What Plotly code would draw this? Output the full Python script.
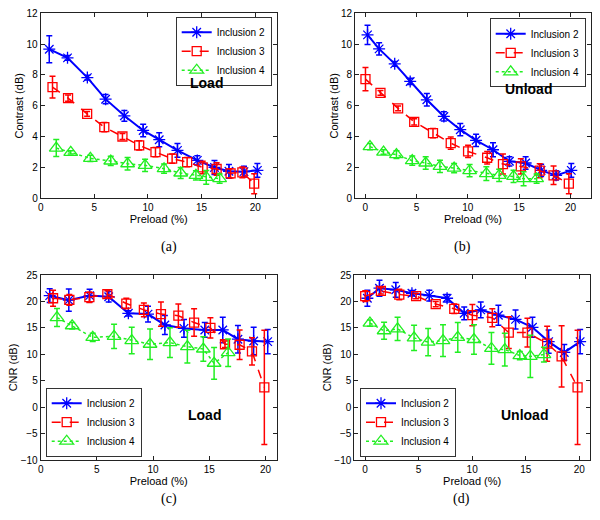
import plotly.graph_objects as go

# ---------------- data ----------------
# Load (a: contrast, c: CNR)
x2_load = [0.8, 2.5, 4.35, 6.05, 7.8, 9.55, 11.05, 12.75, 14.6, 16.2, 17.55, 18.95, 20.2]
x3_load = [1.1, 2.55, 4.33, 5.93, 7.62, 9.18, 10.7, 12.25, 13.65, 15.1, 16.4, 17.7, 18.8, 19.9]
x4_load = [1.45, 2.8, 4.63, 6.53, 8.1, 9.73, 11.5, 13.05, 14.47, 15.43, 16.68]
# Unload (b: contrast, d: CNR)
x2_unload = [0.22, 1.35, 2.87, 4.38, 6.0, 7.66, 9.26, 10.8, 12.45, 14.05, 15.63, 17.14, 18.6, 20.08]
x3_unload = [0.02, 1.48, 3.2, 4.77, 6.6, 8.33, 10.02, 11.88, 13.42, 15.16, 17.0, 18.35, 19.84]
x4_unload = [0.46, 1.78, 3.04, 4.58, 5.89, 7.28, 8.66, 10.17, 11.8, 13.05, 14.45, 15.43, 16.7]

# (a) Contrast, Load
y2a = [9.67, 9.11, 7.83, 6.43, 5.35, 4.40, 3.80, 3.11, 2.46, 2.0, 1.75, 1.73, 1.81]
e2a = [0.87, 0.15, 0.15, 0.3, 0.35, 0.4, 0.45, 0.45, 0.3, 0.45, 0.45, 0.35, 0.45]
y3a = [7.21, 6.5, 5.48, 4.62, 4.01, 3.43, 3.0, 2.57, 2.35, 2.0, 1.9, 1.62, 1.68, 0.95]
e3a = [0.7, 0.2, 0.15, 0.3, 0.2, 0.3, 0.3, 0.3, 0.3, 0.4, 0.4, 0.3, 0.35, 0.65]
y4a = [3.26, 2.98, 2.59, 2.42, 2.24, 2.14, 1.92, 1.64, 1.49, 1.36, 1.27]
e4a = [0.55, 0.1, 0.2, 0.3, 0.4, 0.4, 0.3, 0.35, 0.3, 0.45, 0.3]

# (b) Contrast, Unload
y2b = [10.6, 9.69, 8.72, 7.58, 6.39, 5.31, 4.45, 3.76, 3.15, 2.40, 2.29, 1.81, 1.49, 1.81]
e2b = [0.62, 0.4, 0.15, 0.2, 0.4, 0.3, 0.4, 0.4, 0.45, 0.3, 0.4, 0.4, 0.3, 0.45]
y3b = [7.73, 6.84, 5.83, 4.96, 4.23, 3.58, 3.04, 2.63, 2.22, 2.07, 1.79, 1.49, 0.95]
e3b = [0.75, 0.15, 0.15, 0.2, 0.3, 0.4, 0.4, 0.4, 0.65, 0.5, 0.45, 0.6, 0.65]
y4b = [3.35, 3.0, 2.83, 2.44, 2.29, 2.07, 1.96, 1.79, 1.6, 1.49, 1.42, 1.27, 1.27]
e4b = [0.2, 0.15, 0.25, 0.3, 0.4, 0.4, 0.3, 0.4, 0.45, 0.4, 0.4, 0.45, 0.3]

# (c) CNR, Load
y2c = [21.1, 20.25, 21.1, 20.9, 17.75, 17.6, 15.55, 14.9, 14.6, 14.6, 12.85, 12.5, 12.4]
e2c = [1.3, 2.1, 1.2, 1.0, 0.5, 1.5, 1.8, 1.7, 1.4, 2.4, 2.6, 2.6, 2.3]
y3c = [20.6, 20.3, 20.8, 21.4, 19.6, 18.4, 17.6, 17.3, 16.0, 15.0, 11.9, 11.8, 10.55, 3.75]
e3c = [1.5, 1.0, 1.0, 0.6, 1.0, 1.3, 2.3, 2.2, 2.6, 1.9, 0.6, 2.8, 2.6, 10.8]
y4c = [16.95, 15.4, 13.2, 13.4, 12.6, 11.9, 12.2, 11.45, 11.0, 8.3, 10.3]
e4c = [1.7, 0.6, 0.8, 2.3, 2.5, 2.9, 2.8, 3.1, 2.3, 3.0, 2.6]

# (d) CNR, Unload
y2d = [20.6, 22.5, 22.2, 21.55, 21.1, 20.6, 17.75, 18.4, 17.4, 16.6, 15.1, 12.4, 10.35, 12.4]
e2d = [1.5, 1.5, 1.4, 0.5, 1.0, 0.7, 1.2, 1.5, 1.9, 1.8, 1.9, 2.2, 1.5, 2.3]
y3d = [21.0, 22.0, 21.3, 21.0, 19.5, 18.6, 17.4, 16.9, 14.1, 14.1, 12.0, 9.6, 3.75]
e3d = [1.0, 0.6, 1.0, 0.5, 0.5, 0.9, 2.0, 1.7, 3.0, 2.7, 3.3, 5.8, 10.8]
y4d = [15.9, 14.45, 14.8, 13.1, 12.3, 12.6, 13.2, 12.8, 11.1, 10.9, 9.75, 9.6, 9.95]
e4d = [0.6, 1.6, 2.2, 2.4, 2.6, 3.0, 2.8, 2.8, 3.0, 3.1, 0.8, 4.0, 1.4]

series_names = ["Inclusion 2", "Inclusion 3", "Inclusion 4"]
panel_labels = ["(a)", "(b)", "(c)", "(d)"]
panel_texts = ["Load", "Unload", "Load", "Unload"]
y_titles = ["Contrast (dB)", "Contrast (dB)", "CNR (dB)", "CNR (dB)"]
x_title = "Preload (%)"

# ---------------- style ----------------
W, H = 600, 520
FONT = "Liberation Sans, Arial, sans-serif"
SERIF = "Liberation Serif, DejaVu Serif, serif"
BLUE, RED, GREEN = "#0000FF", "#FF0000", "#22EE22"

styles = [
    dict(color=BLUE, dash="solid", width=2, symbol="asterisk-open", size=10),
    dict(color=RED, dash="dash", width=1.5, symbol="square-open", size=9),
    dict(color=GREEN, dash="dot", width=1.5, symbol="triangle-up-open", size=12),
]

# pixel boxes of the four axes (left, top, right, bottom)
boxes = [
    (40.7, 13.3, 276.7, 198.3),
    (355.0, 13.3, 591.0, 198.3),
    (40.7, 275.0, 276.7, 460.0),
    (354.3, 275.0, 590.0, 460.0),
]
xranges = [[0, 22], [-1, 22], [0, 21], [-1, 21]]
yranges = [[0, 12], [0, 12], [-10, 25], [-10, 25]]
ydticks = [2, 2, 5, 5]
text_pos = [(15.5, 7.45), (15.9, 7.1), (14.6, -1.5), (14.9, -1.5)]

panels = [
    ((x2_load, y2a, e2a), (x3_load, y3a, e3a), (x4_load, y4a, e4a)),
    ((x2_unload, y2b, e2b), (x3_unload, y3b, e3b), (x4_unload, y4b, e4b)),
    ((x2_load, y2c, e2c), (x3_load, y3c, e3c), (x4_load, y4c, e4c)),
    ((x2_unload, y2d, e2d), (x3_unload, y3d, e3d), (x4_unload, y4d, e4d)),
]

# legend boxes: (anchor x px, anchor y px, xanchor, yanchor)
legend_pos = [
    (271.7, 16.7, "right", "top"),
    (585.7, 18.3, "right", "top"),
    (45.7, 456.7, "left", "bottom"),
    (360.0, 456.7, "left", "bottom"),
]

fig = go.Figure()
layout = dict(
    template="none",
    width=W, height=H,
    margin=dict(l=0, r=0, t=0, b=0, autoexpand=False),
    paper_bgcolor="white", plot_bgcolor="white",
    font=dict(family=FONT, size=10, color="black"),
    showlegend=True,
    annotations=[],
)

for i, (panel, box) in enumerate(zip(panels, boxes)):
    k = "" if i == 0 else str(i + 1)
    xa, ya = "x" + k, "y" + k
    leg = "legend" + k
    for (xs, ys, es), st, nm in zip(panel, styles, series_names):
        fig.add_trace(go.Scatter(
            x=xs, y=ys, name=nm, mode="lines+markers",
            xaxis=xa, yaxis=ya, legend=leg,
            line=dict(color=st["color"], dash=st["dash"], width=st["width"]),
            marker=dict(symbol=st["symbol"], size=st["size"], color=st["color"],
                        line=dict(color=st["color"], width=1.3)),
            error_y=dict(type="data", array=es, visible=True, color=st["color"],
                         thickness=1.5, width=3),
        ))
    l, t, r, b = box
    axcommon = dict(showline=True, linecolor="#222", linewidth=1, mirror="allticks",
                    ticks="inside", ticklen=4, tickcolor="#222", showgrid=False,
                    zeroline=False, automargin=False,
                    tickfont=dict(family=FONT, size=10, color="black"))
    layout["xaxis" + k] = dict(
        axcommon, domain=[l / W, r / W], anchor=ya, range=xranges[i],
        tick0=0, dtick=5,
        title=dict(text=x_title, font=dict(family=FONT, size=11), standoff=1),
    )
    layout["yaxis" + k] = dict(
        axcommon, domain=[1 - b / H, 1 - t / H], anchor=xa, range=yranges[i],
        tick0=0, dtick=ydticks[i],
        title=dict(text=y_titles[i], font=dict(family=FONT, size=11), standoff=0),
    )
    lx, ly, xanc, yanc = legend_pos[i]
    layout[leg] = dict(
        x=lx / W, y=1 - ly / H, xanchor=xanc, yanchor=yanc,
        xref="paper", yref="paper",
        bgcolor="white", bordercolor="#333", borderwidth=1,
        font=dict(family=FONT, size=10, color="black"),
        tracegroupgap=0, itemwidth=30,
    )
    tx, ty = text_pos[i]
    layout["annotations"].append(dict(
        x=tx, y=ty, xref=xa, yref=ya, text="<b>%s</b>" % panel_texts[i],
        showarrow=False, font=dict(family=FONT, size=14, color="black"),
    ))
    layout["annotations"].append(dict(
        x=(l + r) / 2 / W, y=1 - (b + 49) / H, xref="paper", yref="paper",
        text=panel_labels[i], showarrow=False,
        font=dict(family=SERIF, size=14, color="black"),
    ))

fig.update_layout(**layout)
fig.write_html("out.html", config={"displayModeBar": False},
               post_script="document.body.style.margin='0px';")
